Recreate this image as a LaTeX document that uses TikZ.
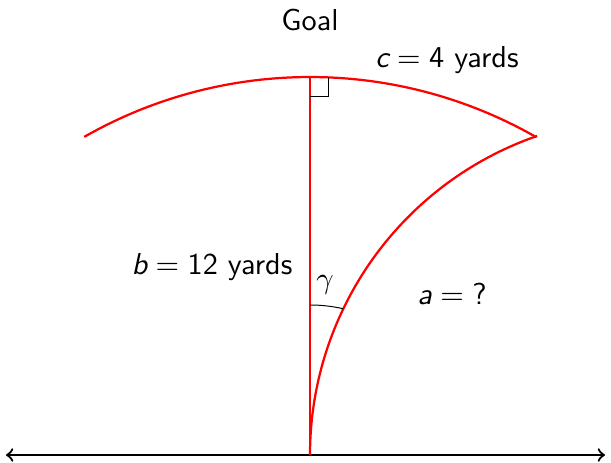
\documentclass[tikz,border=0pt]{standalone}
\usetikzlibrary{arrows}
\begin{document}
\begin{tikzpicture}[x=0.357pt, y=0.357pt,
  redline/.style={red, line width=0.8pt},
  thinline/.style={black, line width=0.35pt},
  lbl/.style={font=\sffamily, inner sep=0pt, scale=1.08}]
\useasboundingbox (0,0) rectangle (611,463);
% ground line
\coordinate (gl) at (6,8);
\coordinate (gr) at (605,8);
\draw[line width=0.8pt, <->, >=to] (gl) -- (gr);
% points
\coordinate (O) at (310,8);
\coordinate (T) at (310,386);
\coordinate (C1) at (310,-69.6);
\coordinate (C2) at (647.6,8);
% vertical
\draw[redline] (O) -- (T);
% top arc
\draw[redline] (C1) ++(119.7:455.6) arc[start angle=119.7, end angle=60.2, radius=455.6];
% curve a
\draw[redline] (O) arc[start angle=180, end angle=109.1, radius=337.6];
% right angle mark
\draw[thinline] (T) ++(0,-19) -- ++(18,0) -- ++(0,19);
% gamma arc
\draw[thinline] (O) ++(90:150) arc[start angle=90, end angle=77.2, radius=150];
% labels
\node[lbl] (goal) at (310,443) {Goal};
\node[lbl] (c) at (447,403) {$\mbox{\itshape c} = \mbox{4 yards}$};
\node[lbl] (b) at (212,196) {$\mbox{\itshape b} = \mbox{12 yards}$};
\node[lbl] (g) at (325,178) {$\gamma$};
\node[lbl] (a) at (452,169) {$\mbox{\itshape a} = \mbox{?}$};
\end{tikzpicture}
\end{document}
